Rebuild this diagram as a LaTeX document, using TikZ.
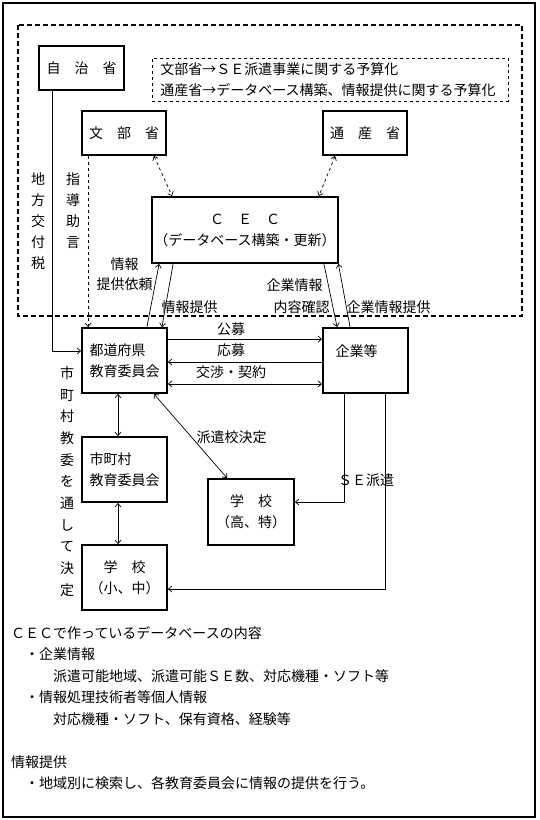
\documentclass[tikz,border=0pt]{standalone}
\usepackage{fontspec}
\setmainfont{Noto Sans CJK JP}
\usetikzlibrary{arrows.meta,calc}
\begin{document}
\begin{tikzpicture}[x=1pt,y=-1pt,
  every node/.style={font=\fontsize{14}{21}\selectfont, inner sep=0pt},
  box/.style={draw, line width=1.8pt, minimum width=85pt, minimum height=65pt, align=center},
  leftbox/.style={box, align=left},
  smallbox/.style={box, minimum height=44pt},
  arr/.style={line width=0.7pt, -{Straight Barb[length=3.5pt,width=6pt]}},
  darr/.style={line width=0.7pt, {Straight Barb[length=3.5pt,width=6pt]}-{Straight Barb[length=3.5pt,width=6pt]}},
  dsh/.style={dash pattern=on 3pt off 3pt},
  vtext/.style={align=center},
  bodytext/.style={anchor=west},
]
\useasboundingbox (0,0) rectangle (539,820);
% outer frame and dashed region
\draw[line width=2pt] (3,3) rectangle (535,817);
\draw[line width=2pt, dash pattern=on 5pt off 3pt] (18,25) rectangle (522,316);

% note box
\node[draw, line width=0.7pt, dsh, anchor=north west, minimum width=356pt, minimum height=43pt,
      text width=340pt, inner xsep=8pt, align=left, font=\fontsize{14}{21}\selectfont] (note) at (152,58)
  {文部省→ＳＥ派遣事業に関する予算化\\通産省→データベース構築、情報提供に関する予算化};

% boxes
\node[smallbox] (jichi) at (81.5,68) {自　治　省};
\node[smallbox, minimum width=84pt] (monbu) at (124,133) {文　部　省};
\node[smallbox, minimum width=84pt] (tsusan) at (365,133) {通　産　省};
\node[box, minimum width=186pt, minimum height=66pt] (cec) at (245,230) {Ｃ　Ｅ　Ｃ\\（データベース構築・更新）};
\node[leftbox] (pref) at (124.5,360.5) {都道府県\\教育委員会};
\node[box] (kigyo) at (365.5,360.5) {};
\node (kigyot) at (356.5,351) {企業等};
\node[leftbox] (shi) at (124.5,469.5) {市町村\\教育委員会};
\node[box] (shochu) at (124.5,577.5) {学　校\\（小、中）};
\node[box, minimum width=86pt, minimum height=66pt] (koukou) at (251,512) {学　校\\（高、特）};

% vertical labels
\node[vtext] (lchiho) at (38,221) {地\\方\\交\\付\\税};
\node[vtext] (lshido) at (73,210.5) {指\\導\\助\\言};
\node[vtext, font=\fontsize{14}{21.7}\selectfont] (lshi) at (67,481.5) {市\\町\\村\\教\\委\\を\\通\\し\\て\\決\\定};

% connectors
\draw[arr] ($(jichi.south west)+(14,0)$) |- ($(pref.west)+(0,-9.5)$);
\draw[arr, dsh] ($(monbu.south west)+(7,0)$) coordinate (m1) -- (m1 |- pref.north);
\draw[darr, dsh] ($(monbu.south east)+(-13,0)$) -- ($(cec.north west)+(21,0)$);
\draw[darr, dsh] ($(tsusan.south west)+(13,0)$) -- ($(cec.north east)+(-20,0)$);

\draw[arr] ($(pref.north east)+(-21,0)$) -- ($(cec.south west)+(8,0)$);
\draw[arr] ($(cec.south west)+(22,0)$) -- ($(pref.north east)+(-6,0)$);
\draw[arr] ($(cec.south east)+(-15,0)$) -- ($(kigyo.north west)+(15,0)$);
\draw[arr] ($(kigyo.north west)+(28,0)$) -- ($(cec.south east)+(-0.5,0)$);

\draw[arr] ($(pref.north east)+(0,12)$) coordinate (h1) -- (h1 -| kigyo.west);
\draw[arr] ($(kigyo.west)+(0,1.5)$) coordinate (h2) -- (h2 -| pref.east);
\draw[darr] ($(pref.south east)+(0,-10)$) coordinate (h3) -- (h3 -| kigyo.west);

\draw[darr] ($(pref.south)+(-6.5,0)$) coordinate (v1) -- (v1 |- shi.north);
\draw[darr] ($(shi.south)+(-6.5,0)$) coordinate (v2) -- (v2 |- shochu.north);
\draw[darr] ($(pref.south east)+(-14,0)$) -- ($(koukou.north west)+(20,0)$);

\draw[arr] ($(kigyo.south west)+(22,0)$) |- ($(koukou.east)+(0,-10)$);
\draw[arr] ($(kigyo.south west)+(63,0)$) |- ($(shochu.east)+(0,11.5)$);

% connector labels
\node[align=center, font=\fontsize{14}{20}\selectfont] (lirai) at (124.5,274) {情報\\提供依頼};
\node (lteikyo) at (189.5,307) {情報提供};
\node (lkig1) at (294.5,285) {企業情報};
\node (lkig2) at (301.5,307) {内容確認};
\node (lkigteikyo) at (388.5,307) {企業情報提供};
\node (lkobo) at (231,329) {公募};
\node (loubo) at (231,350) {応募};
\node (lkosho) at (231,372) {交渉・契約};
\node (lhaken) at (231.5,437) {派遣校決定};
\node (lse) at (366,480) {ＳＥ派遣};

% bottom text
\node[bodytext] (b1) at (11,633) {ＣＥＣで作っているデータベースの内容};
\node[bodytext] (b2) at (11,654.5) {　・企業情報};
\node[bodytext] (b3) at (11,676) {　　　派遣可能地域、派遣可能ＳＥ数、対応機種・ソフト等};
\node[bodytext] (b4) at (11,697.5) {　・情報処理技術者等個人情報};
\node[bodytext] (b5) at (11,719) {　　　対応機種・ソフト、保有資格、経験等};
\node[bodytext] (b6) at (11,762) {情報提供};
\node[bodytext] (b7) at (11,783.5) {　・地域別に検索し、各教育委員会に情報の提供を行う。};
\end{tikzpicture}
\end{document}
